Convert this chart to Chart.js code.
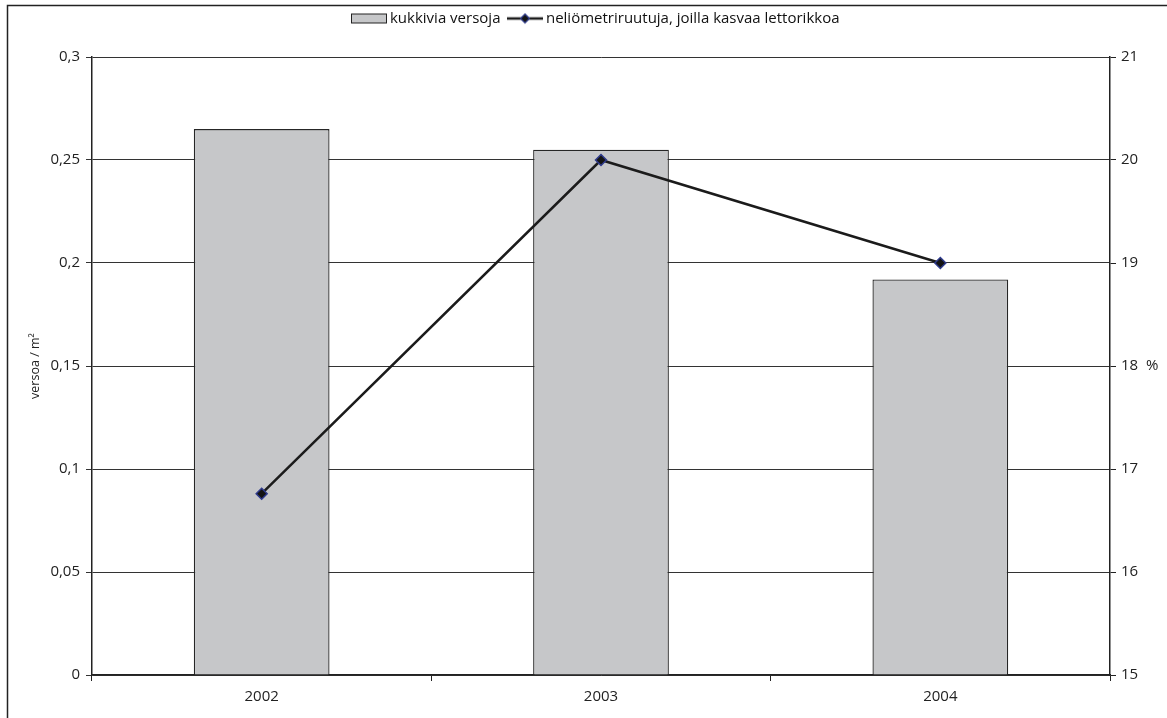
<!DOCTYPE html>
<html lang="fi">
<head>
<meta charset="UTF-8">
<title>Lettorikko</title>
<style>
    html, body { margin: 0; padding: 0; background: #fff; }
    .chart-box { position: relative; width: 1167px; height: 718px; }
</style>
</head>
<body>
<div class="chart-box">
    <canvas id="versoChart" width="1167" height="718"></canvas>
</div>
<script src="https://cdn.jsdelivr.net/npm/chart.js"></script>
<script>
    // vuodet ja mitatut arvot
    const years = ['2002', '2003', '2004'];
    const flowering = [0.265, 0.255, 0.192];      // versoa / m2
    const plotShare = [16.76, 20, 19];             // % ruuduista
    const leftTicks = [0, 0.05, 0.1, 0.15, 0.2, 0.25, 0.3];
    const rightTicks = [15, 16, 17, 18, 19, 20, 21];

    const barLabel = 'kukkivia versoja';
    const lineLabel = 'neliömetriruutuja, joilla kasvaa lettorikkoa';

    const FONT = '"Open Sans", "DejaVu Sans", sans-serif';
    const barFill = '#c6c7c9';
    const barEdge = '#262626';
    const lineColor = '#1b1b1b';
    const markFill = '#141414';
    const markEdge = '#2e3a8c';

    function fiNum(v) {
        return String(v).replace('.', ',');
    }

    // legendan pienet kuvakkeet
    function barSwatch() {
        let c = document.createElement('canvas');
        c.width = 38; c.height = 12;
        let g = c.getContext('2d');
        g.fillStyle = barFill;
        g.fillRect(1, 1, 36, 10);
        g.strokeStyle = '#222';
        g.lineWidth = 1;
        g.strokeRect(1.5, 1.5, 35, 9);
        return c;
    }
    function lineSwatch() {
        let c = document.createElement('canvas');
        c.width = 38; c.height = 12;
        let g = c.getContext('2d');
        g.strokeStyle = lineColor;
        g.lineWidth = 2.5;
        g.beginPath(); g.moveTo(1, 6); g.lineTo(37, 6); g.stroke();
        g.beginPath();
        g.moveTo(19, 1.5); g.lineTo(23.5, 6); g.lineTo(19, 10.5); g.lineTo(14.5, 6); g.closePath();
        g.fillStyle = markFill; g.fill();
        g.strokeStyle = markEdge; g.lineWidth = 1.2; g.stroke();
        return c;
    }

    const frame = {
        id: 'frame',
        beforeDraw(chart) {
            let ctx = chart.ctx;
            ctx.save();
            ctx.fillStyle = '#fff';
            ctx.fillRect(0, 0, chart.width, chart.height);
            ctx.strokeStyle = '#222';
            ctx.lineWidth = 1.5;
            ctx.strokeRect(7.5, 5.5, 1300, 900);
            ctx.restore();
        }
    };

    // legendan alle lisää tyhjää ja legenda hieman oikealle
    const legendGap = {
        id: 'legendGap',
        beforeLayout(chart) {
            let lg = chart.legend;
            if (!lg || lg._gapPatched) return;
            let fit = lg.fit;
            lg.fit = function () {
                fit.call(this);
                this.height += 21;
            };
            lg._gapPatched = true;
        },
        afterLayout(chart) {
            let lg = chart.legend;
            if (!lg) return;
            lg.left += 14;
            lg.right += 14;
        }
    };

    let ctx = document.getElementById('versoChart');
    new Chart(ctx, {
        data: {
            labels: years,
            datasets: [{
                type: 'line',
                label: lineLabel,
                data: plotShare,
                yAxisID: 'yR',
                order: 0,
                borderColor: lineColor,
                borderWidth: 2.5,
                tension: 0,
                pointStyle: 'rectRot',
                pointRadius: 5.5,
                pointBackgroundColor: markFill,
                pointBorderColor: markEdge,
                pointBorderWidth: 1.5
            }, {
                type: 'bar',
                label: barLabel,
                data: flowering,
                yAxisID: 'y',
                order: 1,
                backgroundColor: barFill,
                borderColor: barEdge,
                borderWidth: 1.3,
                barPercentage: 0.4,
                categoryPercentage: 1
            }]
        },
        options: {
            responsive: false,
            animation: false,
            layout: { padding: { top: 0, right: 0, bottom: 0, left: 0 } },
            plugins: {
                tooltip: { enabled: false },
                legend: {
                    position: 'top',
                    labels: {
                        usePointStyle: true,
                        // kuvake on leveämpi kuin varattu laatikko, jolloin teksti tulee lähelle
                        pointStyleWidth: 27,
                        padding: 11,
                        color: '#111',
                        font: { family: FONT, size: 15 },
                        generateLabels: function () {
                            return [
                                { text: barLabel, pointStyle: barSwatch(), fontColor: '#111', hidden: false, datasetIndex: 1, lineWidth: 0 },
                                { text: lineLabel, pointStyle: lineSwatch(), fontColor: '#111', hidden: false, datasetIndex: 0, lineWidth: 0 }
                            ];
                        }
                    }
                }
            },
            scales: {
                x: {
                    offset: true,
                    grid: {
                        offset: true,
                        drawOnChartArea: false,
                        color: '#222',
                        tickLength: 6
                    },
                    border: { color: '#222', width: 1.5 },
                    ticks: {
                        color: '#222',
                        padding: 7,
                        font: { family: FONT, size: 15 }
                    },
                    afterFit: function (s) { s.height = 43; }
                },
                y: {
                    position: 'left',
                    min: 0,
                    max: 0.3,
                    afterBuildTicks: function (s) { s.ticks = leftTicks.map(v => ({ value: v })); },
                    grid: { color: '#333', lineWidth: 1, tickLength: 6 },
                    border: { color: '#222', width: 1.5 },
                    ticks: {
                        color: '#222',
                        padding: 6,
                        font: { family: FONT, size: 15 },
                        callback: v => fiNum(v)
                    },
                    title: {
                        display: true,
                        text: 'versoa / m²',
                        color: '#222',
                        padding: { top: 28, bottom: 14 },
                        font: { family: FONT, size: 12.5 }
                    },
                    afterFit: function (s) { s.width = 92; }
                },
                yR: {
                    position: 'right',
                    min: 15,
                    max: 21,
                    afterBuildTicks: function (s) { s.ticks = rightTicks.map(v => ({ value: v })); },
                    grid: { drawOnChartArea: false, color: '#222', tickLength: 6 },
                    border: { color: '#222', width: 1.5 },
                    ticks: {
                        color: '#222',
                        padding: 5,
                        font: { family: FONT, size: 15 },
                        callback: v => (v === 18 ? '18  %' : String(v))
                    },
                    afterFit: function (s) { s.width = 57; }
                }
            }
        },
        plugins: [frame, legendGap]
    });
</script>
</body>
</html>
